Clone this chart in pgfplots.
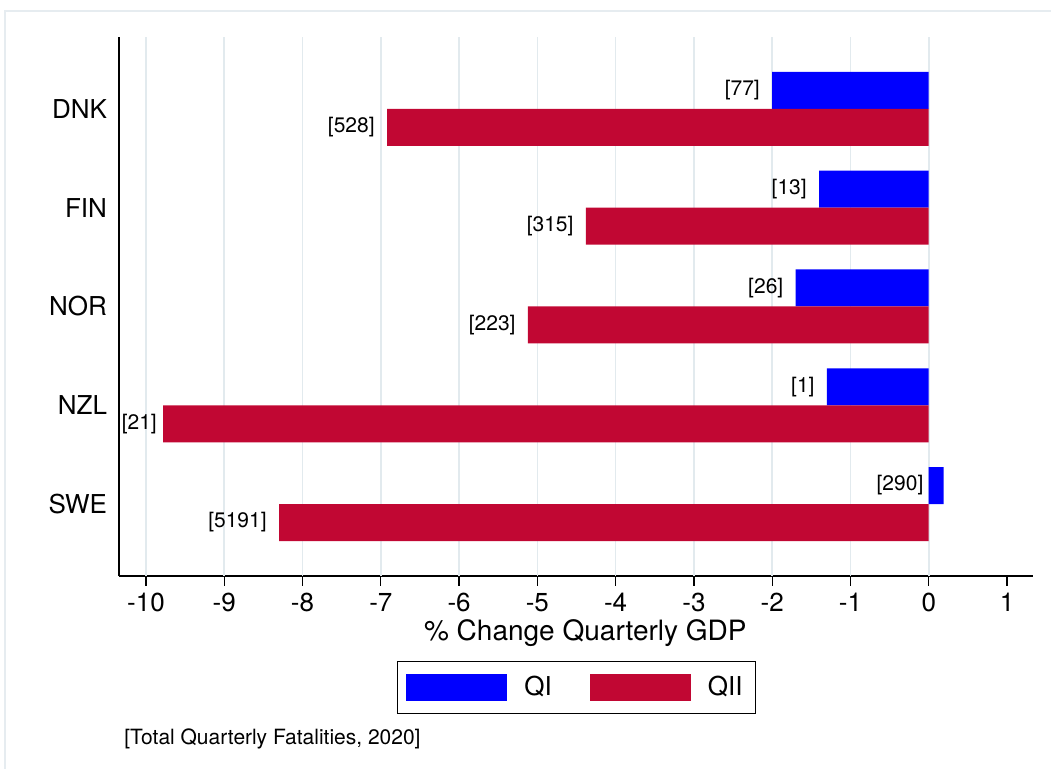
\documentclass[border=0pt]{standalone}
\usepackage{fontspec}
\setmainfont{TeX Gyre Heros}
\usepackage{pgfplots}
\pgfplotsset{compat=1.18}

\definecolor{qone}{RGB}{0,0,255}
\definecolor{qtwo}{RGB}{193,7,51}
\definecolor{gridc}{RGB}{226,234,238}
\definecolor{framec}{RGB}{230,236,240}

\newcommand{\bigfont}{\fontsize{13bp}{15bp}\selectfont}
\newcommand{\labelfont}{\fontsize{14bp}{16bp}\selectfont}
\newcommand{\smallfont}{\fontsize{10.5bp}{12bp}\selectfont}

\begin{document}
\begin{tikzpicture}
    % page = 1051 x 769 px at 0.5bp per px
    \useasboundingbox (0,0) rectangle (525.5bp,384.5bp);
    \draw[framec, line width=0.8bp] (2.5bp,0) -- (2.5bp,379bp) -- (525.5bp,379bp);

    \begin{axis}[
        at={(59.5bp,96.5bp)}, anchor=south west,
        width=457.15bp, height=269.25bp, scale only axis,
        xmin=-10.345, xmax=1.336,
        ymin=0.271, ymax=5.724,
        axis x line*=bottom, axis y line*=left,
        axis line style={black, line width=0.6bp},
        xtick={-10,...,1},
        xticklabels={-10,-9,-8,-7,-6,-5,-4,-3,-2,-1,0,1},
        tick align=outside,
        major tick length=5bp,
        xtick style={black, line width=0.6bp},
        extra x ticks={-10,...,0},
        extra x tick labels={},
        extra x tick style={grid=major, major tick length=0pt},
        major grid style={gridc, line width=0.8bp},
        ytick={1,2,3,4,5},
        yticklabels={SWE,NZL,NOR,FIN,DNK},
        ytick style={draw=none},
        ticklabel style={font=\bigfont},
        yticklabel style={xshift=2.5bp},
        xlabel={\% Change Quarterly GDP},
        xlabel style={font=\labelfont, at={(axis description cs:0.51,-0.1189)}, anchor=base},
        xbar, bar width=18.5bp,
        point meta=explicit symbolic,
        nodes near coords={\pgfplotspointmeta},
        every node near coord/.append style={anchor=east, inner sep=0pt, xshift=-6bp, font=\smallfont, black},
        legend columns=2,
        legend cell align=left,
        legend image code/.code={\fill[#1] (0bp,-6.75bp) rectangle (50.5bp,6.75bp);},
        legend style={at={(axis description cs:0.5004,-0.2071)}, anchor=center,
            draw=black, line width=0.6bp, font=\bigfont,
            inner xsep=4.5bp, inner ysep=5.25bp,
            /tikz/every odd column/.append style={column sep=6.5bp},
            /tikz/every even column/.append style={column sep=17bp}},
    ]
        \addplot[fill=qone, draw=none, bar shift=9.25bp] coordinates {
            (-2.0,5) [{[77]}]
            (-1.4,4) [{[13]}]
            (-1.7,3) [{[26]}]
            (-1.3,2) [{[1]}]
            (0.19,1) [{}]
        };
        \addplot[fill=qtwo, draw=none, bar shift=-9.25bp] coordinates {
            (-6.92,5) [{[528]}]
            (-4.38,4) [{[315]}]
            (-5.12,3) [{[223]}]
            (-9.78,2) [{}]
            (-8.30,1) [{[5191]}]
        };
        % labels that Stata set closer to the bar
        \node[anchor=east, inner sep=0pt, font=\smallfont] at ([xshift=-2.5bp,yshift=9.25bp]axis cs:0,1) {[290]};
        \node[anchor=east, inner sep=0pt, font=\smallfont] at ([xshift=-3bp,yshift=-9.25bp]axis cs:-9.78,2) {[21]};
        \legend{QI, QII}
    \end{axis}

    \node[anchor=base west, inner sep=0pt, font=\smallfont] at (62bp,12.5bp) {[Total Quarterly Fatalities, 2020]};
\end{tikzpicture}
\end{document}
